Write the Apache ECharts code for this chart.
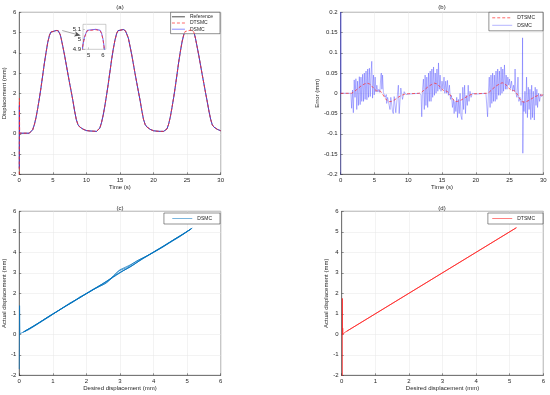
<!DOCTYPE html>
<html><head><meta charset="utf-8">
<script src="https://cdn.jsdelivr.net/npm/echarts@6/dist/echarts.min.js"></script>
<style>html,body{margin:0;padding:0;background:#fff}#c{width:550px;height:395px}</style>
</head><body><div id="c"></div>
<script>
// Reference displacement [time s, mm]
const refDisp = [
[0,0.03],[1.5,0.03],[1.75,0.06],[2.0,0.2],[2.25,0.45],[2.5,0.8],[2.75,1.25],[3.0,1.75],[3.25,2.3],[3.5,2.9],[3.75,3.5],[4.0,4.03],[4.25,4.52],[4.5,4.86],[4.6,4.95],[4.7,5.02],[4.8,5.06],[4.9,5.09],[5.0,5.1],[5.5,5.1],
[5.8,5.09],[5.9,5.06],[6.0,5.0],[6.1,4.9],[6.25,4.7],[6.5,4.3],[6.75,3.88],[7.0,3.42],[7.25,2.95],[7.5,2.5],[7.75,2.07],[8.0,1.62],[8.25,1.12],[8.5,0.7],[8.75,0.45],[9.0,0.34],[9.25,0.28],[9.5,0.23],[9.75,0.19],[10.0,0.16],[10.5,0.14],[11.0,0.13],[11.5,0.12],
[11.75,0.15],[12.0,0.28],[12.25,0.55],[12.5,0.92],[12.75,1.38],[13.0,1.9],[13.25,2.45],[13.5,3.05],[13.75,3.65],[14.0,4.18],[14.25,4.62],[14.5,4.95],[14.6,5.03],[14.7,5.09],[14.8,5.12],[14.9,5.14],[15.0,5.15],[15.5,5.15],
[15.7,5.13],[15.8,5.09],[15.9,5.03],[16.0,4.94],[16.25,4.72],[16.5,4.32],[16.75,3.9],[17.0,3.44],[17.25,2.97],[17.5,2.52],[17.75,2.08],[18.0,1.64],[18.25,1.15],[18.5,0.72],[18.75,0.46],[19.0,0.34],[19.25,0.27],[19.5,0.22],[19.75,0.18],[20.0,0.15],[20.5,0.13],[21.0,0.12],[21.5,0.12],
[21.75,0.13],[22.0,0.24],[22.25,0.48],[22.5,0.84],[22.75,1.3],[23.0,1.8],[23.25,2.35],[23.5,2.95],[23.75,3.55],[24.0,4.08],[24.25,4.55],[24.5,4.89],[24.6,4.98],[24.7,5.05],[24.8,5.09],[24.9,5.11],[25.0,5.12],[25.5,5.12],
[25.8,5.11],[25.9,5.08],[26.0,5.01],[26.1,4.91],[26.25,4.7],[26.5,4.28],[26.75,3.85],[27.0,3.38],[27.25,2.92],[27.5,2.47],[27.75,2.02],[28.0,1.58],[28.25,1.12],[28.5,0.72],[28.75,0.44],[29.0,0.33],[29.25,0.27],[29.5,0.22],[29.75,0.18],[30.0,0.15]
];
// start-up transients of the controllers [time s, mm]
const dtsmcStart = [[0,-2.5],[0.03,1.75],[0.06,0.03]];
const dsmcStart = [[0,-1.7],[0.02,1.4],[0.05,0.03]];

// Tracking error DTSMC [time s, mm]
const dtsmcErr = [
[0,0],[1.6,0],[1.8,0.001],[2.0,0.004],[2.5,0.011],[3.0,0.018],[3.5,0.023],[3.9,0.025],[4.3,0.023],[4.7,0.016],[5.0,0.01],[5.3,0.006],[5.6,0.007],[5.9,0.005],[6.2,-0.002],[6.5,-0.01],[6.8,-0.017],[7.1,-0.021],[7.5,-0.02],[8.0,-0.016],[8.5,-0.01],[9.0,-0.005],[9.5,-0.002],[10,-0.001],
[11.6,0],[12,0.003],[12.5,0.01],[13,0.017],[13.5,0.022],[13.9,0.025],[14.3,0.023],[14.7,0.016],[15.0,0.01],[15.3,0.006],[15.6,0.006],[15.9,0.003],[16.2,-0.004],[16.5,-0.012],[16.9,-0.02],[17.3,-0.02],[17.8,-0.017],[18.3,-0.012],[18.8,-0.007],[19.3,-0.003],[19.8,-0.001],
[21.6,0],[22,0.003],[22.5,0.011],[23,0.018],[23.5,0.023],[23.9,0.026],[24.3,0.024],[24.7,0.017],[25.0,0.011],[25.3,0.007],[25.6,0.007],[25.9,0.004],[26.2,-0.004],[26.5,-0.013],[26.9,-0.021],[27.3,-0.022],[27.8,-0.018],[28.3,-0.013],[28.8,-0.008],[29.3,-0.005],[30,-0.004]
];
// Tracking error DSMC [time s, mm]
const dsmcErr = [
[0,-0.6],[0.01,0.6],[0.03,0],[0.8,0],[0.85,0.004],[0.9,-0.002],[1.0,0],[1.5,0],
[1.62,-0.037],[1.75,0.008],[1.87,-0.048],[2.0,0.033],[2.12,-0.01],[2.25,0.036],[2.38,-0.04],[2.5,0.03],[2.62,-0.03],[2.76,0.041],[2.88,-0.028],[3.0,0.04],[3.12,-0.02],[3.25,0.047],[3.38,-0.02],[3.5,0.05],[3.62,-0.015],[3.75,0.055],[3.88,-0.016],[4.0,0.06],[4.12,-0.01],[4.25,0.062],[4.38,-0.008],[4.5,0.05],[4.6,0.079],[4.72,-0.012],[4.85,0.045],[4.97,-0.004],[5.1,0.04],[5.22,0.003],[5.35,0.02],[5.5,0.003],[5.65,0.01],[5.8,0.002],[5.95,0.045],[6.02,0.05],[6.1,0.01],[6.2,0.045],[6.32,0.002],[6.45,0.0],[6.6,-0.01],[6.75,-0.003],[6.81,-0.025],[6.95,-0.01],[7.05,-0.013],[7.18,-0.03],[7.3,-0.04],[7.42,-0.01],[7.55,-0.013],[7.68,-0.045],[7.79,-0.05],[7.92,-0.008],[8.04,-0.008],[8.16,-0.048],[8.29,-0.045],[8.42,0.0],[8.54,0.02],[8.66,-0.05],[8.78,-0.05],[8.9,0.013],[9.03,0.012],[9.15,-0.015],[9.28,-0.016],[9.4,0.004],[9.52,0.004],[9.65,-0.003],[9.77,0.0],[10,-0.002],
[11.6,0.0],[11.9,-0.003],[12.0,-0.058],[12.12,0.01],[12.25,0.035],[12.38,-0.04],[12.5,0.045],[12.62,-0.03],[12.75,0.04],[12.88,-0.035],[13.0,0.05],[13.12,-0.02],[13.25,0.055],[13.38,-0.02],[13.5,0.06],[13.62,-0.01],[13.75,0.065],[13.88,-0.005],[14.0,0.05],[14.12,0.0],[14.25,0.06],[14.38,0.005],[14.48,0.075],[14.6,0.01],[14.72,0.045],[14.85,0.005],[15.0,0.03],[15.15,0.01],[15.3,0.04],[15.42,0.0],[15.55,0.03],[15.68,0.0],[15.8,0.032],[15.95,-0.005],[16.1,0.02],[16.25,-0.015],[16.4,-0.005],[16.55,-0.035],[16.68,-0.015],[16.8,-0.05],[16.92,-0.02],[17.05,-0.045],[17.18,-0.01],[17.3,-0.06],[17.42,-0.015],[17.55,-0.05],[17.68,0.0],[17.8,-0.055],[17.95,-0.065],[18.08,0.015],[18.2,-0.04],[18.35,0.02],[18.48,-0.05],[18.6,-0.005],[18.75,-0.03],[18.88,0.02],[19.0,-0.02],[19.15,0.005],[19.3,-0.01],[19.5,0.0],[20,-0.002],
[21.5,0],[21.75,-0.058],[21.88,0.005],[22.0,0.04],[22.12,-0.035],[22.25,0.045],[22.38,-0.025],[22.5,0.05],[22.62,-0.02],[22.75,0.045],[22.88,-0.02],[23.0,0.055],[23.12,-0.015],[23.25,0.06],[23.38,-0.005],[23.5,0.055],[23.62,-0.005],[23.75,0.065],[23.88,0.0],[24.0,0.06],[24.12,0.005],[24.25,0.07],[24.38,0.01],[24.5,0.045],[24.62,0.01],[24.75,0.04],[24.88,0.02],[25.0,0.035],[25.15,0.012],[25.3,0.03],[25.45,0.005],[25.6,0.02],[25.72,0.005],[25.82,0.06],[25.95,0.0],[26.1,-0.01],[26.25,0.04],[26.38,-0.02],[26.55,-0.01],[26.7,-0.03],[26.88,-0.01],[26.93,0.137],[26.97,-0.148],[27.05,-0.02],[27.15,-0.045],[27.28,0.005],[27.4,-0.05],[27.52,0.04],[27.65,-0.06],[27.78,0.015],[27.9,-0.04],[28.02,0.01],[28.15,-0.065],[28.28,0.02],[28.4,-0.06],[28.52,0.005],[28.67,-0.066],[28.8,0.015],[28.92,-0.03],[29.05,0.01],[29.15,-0.035],[29.3,0.0],[29.45,-0.02],[29.6,-0.002],[29.75,-0.008],[30,-0.003]
];
// Actual vs desired displacement [desired mm, actual mm]
const dsmcXY = [
[0,-1.7],[0.01,1.4],[0.02,0.03],
[0.05,0.03],[0.3,0.24],[0.6,0.55],[0.9,0.86],[1.2,1.2],[1.5,1.48],[1.8,1.82],[2.1,2.07],[2.4,2.38],[2.7,2.7],[3.0,3.02],[3.3,3.28],[3.6,3.62],[3.9,3.92],[4.2,4.2],[4.5,4.5],[4.8,4.8],[5.1,5.12],[5.15,5.2],
[5.12,5.18],[4.8,4.78],[4.5,4.48],[4.2,4.18],[3.9,3.9],[3.6,3.66],[3.3,3.38],[3.0,3.15],[2.8,2.85],[2.6,2.5],[2.4,2.35],[2.1,2.08],[1.8,1.78],[1.5,1.52],[1.2,1.18],[0.9,0.9],[0.6,0.58],[0.3,0.28],[0.15,0.13],
[0.12,0.1],[0.4,0.36],[0.7,0.68],[1.0,0.98],[1.3,1.3],[1.6,1.57],[1.9,1.9],[2.2,2.2],[2.5,2.47],[2.8,2.78],[3.1,3.1],[3.4,3.38],[3.7,3.72],[4.0,4.0],[4.3,4.28],[4.6,4.62],[4.9,4.9],[5.15,5.18],
[5.1,5.14],[4.7,4.7],[4.4,4.42],[4.1,4.1],[3.8,3.82],[3.5,3.58],[3.2,3.25],[2.95,3.08],[2.7,2.65],[2.5,2.42],[2.2,2.18],[1.9,1.88],[1.6,1.6],[1.3,1.28],[1.0,1.0],[0.7,0.68],[0.4,0.38],[0.12,0.11],
[0.15,0.12],[0.5,0.46],[0.8,0.78],[1.1,1.08],[1.4,1.4],[1.7,1.68],[2.0,1.98],[2.3,2.28],[2.6,2.58],[2.9,2.92],[3.2,3.2],[3.5,3.5],[3.8,3.8],[4.1,4.12],[4.4,4.4],[4.7,4.72],[5.0,5.02],[5.12,5.14]
];
const dtsmcXY = [[0.02,-2.5],[0.02,1.75],[0.025,0.0],[0.03,0.3],[0.035,0.0],[0.1,0.1],[5.2,5.2],[0.15,0.15]];

const FONT = 'Liberation Sans, Arial, sans-serif';
const C = '#262626';
function ax(gi, min, max, interval, name, gap, extra) {
  return Object.assign({
    type: 'value', gridIndex: gi, min, max, interval,
    name, nameLocation: 'middle', nameGap: gap,
    nameTextStyle: {fontSize: 6, color: C, fontFamily: FONT},
    axisLine: {show: true, onZero: false, lineStyle: {color: C, width: 0.5}},
    axisTick: {show: true, inside: true, length: 2, lineStyle: {color: C, width: 0.5}},
    axisLabel: {fontSize: 6, color: C, margin: 3, fontFamily: FONT, showMinLabel: true, showMaxLabel: true},
    splitLine: {show: true, lineStyle: {color: '#e6e6e6', width: 0.5}}
  }, extra || {});
}
const gridBase = {show: true, borderColor: C, borderWidth: 0.5, backgroundColor: '#fff', containLabel: false};
const BLUE = 'rgba(30,30,255,0.75)';
const BLUE_B = 'rgba(60,60,255,0.55)';
const RED = '#ff2a2a';
const line = (name, data, xi, color, width, type, z) => ({
  type: 'line', name, data, xAxisIndex: xi, yAxisIndex: xi, symbol: 'none', showSymbol: false,
  animation: false, clip: true, z: z || 2,
  lineStyle: {color, width, type: type || 'solid'}, itemStyle: {color}
});
const dtsmcDisp = dtsmcStart.concat(refDisp.slice(1));
const dsmcDisp = dsmcStart.concat(refDisp.slice(1));

const legendBase = {
  orient: 'vertical', backgroundColor: '#fff', borderColor: C, borderWidth: 0.5,
  itemWidth: 13, itemHeight: 5, itemGap: 1.2, padding: [2, 7, 2, 1],
  itemStyle: {opacity: 0},
  lineStyle: {width: 0.7},
  textStyle: {fontSize: 5, color: C, fontFamily: FONT},
  formatter: n => n.split('#')[0], selectedMode: false
};
const titleBase = {textStyle: {fontSize: 6, fontWeight: 'normal', color: C, fontFamily: FONT}, padding: 0, textAlign: 'center'};

const refSeries = line('Reference#a', refDisp, 0, '#000', 0.5, 'solid', 2);
refSeries.markLine = {
  silent: true, symbol: ['none', 'arrow'], symbolSize: [4, 6], animation: false,
  label: {show: false}, lineStyle: {color: '#555', width: 0.5, type: 'solid'},
  emphasis: {disabled: true},
  data: [[{coord: [6.4, 5.1]}, {coord: [9.1, 4.86]}]]
};

const option = {
  animation: false,
  backgroundColor: '#fff',
  title: [
    Object.assign({text: '(a)', left: 120, top: 4}, titleBase),
    Object.assign({text: '(b)', left: 442, top: 4}, titleBase),
    Object.assign({text: '(c)', left: 120, top: 205}, titleBase),
    Object.assign({text: '(d)', left: 442, top: 205}, titleBase)
  ],
  grid: [
    Object.assign({left: 19, top: 12.3, width: 201.7, height: 162}, gridBase),
    Object.assign({left: 340.7, top: 12.3, width: 202.6, height: 162}, gridBase),
    Object.assign({left: 19, top: 211.3, width: 201.7, height: 164}, gridBase),
    Object.assign({left: 341.7, top: 211.3, width: 201.6, height: 164}, gridBase),
    Object.assign({}, gridBase, {left: 83, top: 24.3, width: 22.9, height: 25, borderColor: '#9a9a9a'})
  ],
  xAxis: [
    ax(0, 0, 30, 5, 'Time (s)', 10),
    ax(1, 0, 30, 5, 'Time (s)', 10),
    ax(2, 0, 6, 1, 'Desired displacement (mm)', 10),
    ax(3, 0, 6, 1, 'Desired displacement (mm)', 10),
    ax(4, 4.6, 6.2, null, '', 0, {
      axisLine: {show: false}, splitLine: {show: false},
      axisTick: {show: true, inside: true, length: 2, customValues: [5, 6], lineStyle: {color: '#9a9a9a', width: 0.5}},
      axisLabel: {fontSize: 6, color: C, margin: 3, fontFamily: FONT, customValues: [5, 6]}
    })
  ],
  yAxis: [
    ax(0, -2, 6, 1, 'Displacement (mm)', 8),
    ax(1, -0.2, 0.2, 0.05, 'Error (mm)', 14),
    ax(2, -2, 6, 1, 'Actual displacement (mm)', 8),
    ax(3, -2, 6, 1, 'Actual displacement (mm)', 8),
    ax(4, 4.9, 5.15, 0.1, '', 0, {
      axisLine: {show: false}, splitLine: {show: false},
      axisTick: {show: true, inside: true, length: 2, lineStyle: {color: '#9a9a9a', width: 0.5}},
      axisLabel: {fontSize: 6, color: C, margin: 2, fontFamily: FONT, showMinLabel: true, showMaxLabel: false}
    })
  ],
  legend: [
    Object.assign({}, legendBase, {data: ['Reference#a', 'DTSMC#a', 'DSMC#a'], right: 330, top: 12.3}),
    Object.assign({}, legendBase, {data: ['DTSMC#b', 'DSMC#b'], right: 7, top: 12.3, itemWidth: 20, itemGap: 2.5, padding: [3, 8, 3, 3]}),
    Object.assign({}, legendBase, {data: ['DSMC#c'], right: 330, top: 213, itemWidth: 20, padding: [3, 8, 3, 8]}),
    Object.assign({}, legendBase, {data: ['DTSMC#d'], right: 7, top: 213, itemWidth: 20, padding: [3, 8, 3, 4]})
  ],
  series: [
    refSeries,
    line('DSMC#a', dsmcDisp, 0, BLUE, 0.9, 'solid', 3),
    line('DTSMC#a', dtsmcDisp, 0, RED, 0.8, [3, 2], 4),
    line('DSMC#b', dsmcErr, 1, BLUE_B, 0.7, 'solid', 3),
    line('DTSMC#b', dtsmcErr, 1, RED, 0.7, [3, 2], 4),
    line('DSMC#c', dsmcXY, 2, 'rgba(0,114,189,0.75)', 0.9, 'solid', 3),
    line('DTSMC#d', dtsmcXY, 3, 'rgba(255,40,40,0.85)', 0.9, 'solid', 3),
    line('DSMC#i', refDisp, 4, BLUE, 0.9, 'solid', 3),
    line('DTSMC#i', refDisp.map(p => [p[0], p[1] - 0.004]), 4, RED, 0.8, [3, 2], 4)
  ]
};
const chart = echarts.init(document.getElementById('c'), null, {renderer: 'canvas'});
chart.setOption(option);
</script></body></html>
